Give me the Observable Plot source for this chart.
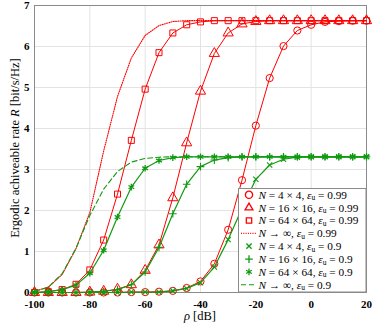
<!DOCTYPE html>
<html>
<head>
<meta charset="utf-8">
<script src="https://cdn.jsdelivr.net/npm/d3@7"></script>
<script src="https://cdn.jsdelivr.net/npm/@observablehq/plot@0.6"></script>
<style>
  body { margin: 0; background: #fff; }
  #chart svg { display: block; }
</style>
</head>
<body>
<div id="chart"></div>
<script>
const rho = [-100,-95,-90,-85,-80,-75,-70,-65,-60,-55,-50,-45,-40,-35,-30,-25,-20,-15,-10,-5,0,5,10,15,20];

const circle099 = [0,0,0,0,0,0,0,0.01,0.01,0.02,0.04,0.11,0.27,0.7,1.53,2.74,4.07,5.23,6.01,6.39,6.53,6.6,6.62,6.63,6.63];
const triangle099 = [0,0,0,0,0.01,0.03,0.08,0.19,0.54,1.16,2.31,3.65,4.91,5.83,6.33,6.55,6.61,6.63,6.63,6.63,6.63,6.63,6.63,6.63,6.63];
const square099 = [0,0.02,0.07,0.2,0.55,1.28,2.4,3.71,4.96,5.85,6.33,6.53,6.6,6.63,6.63,6.63,6.63,6.63,6.63,6.63,6.63,6.63,6.63,6.63,6.63];
const inf099 = [0.03,0.13,0.44,1.07,1.95,3.45,4.78,5.72,6.27,6.51,6.61,6.63,6.63,6.63,6.63,6.63,6.63,6.63,6.63,6.63,6.63,6.63,6.63,6.63,6.63];
const times09 = [0,0,0,0,0,0,0,0.01,0.01,0.01,0.04,0.1,0.24,0.62,1.29,2.05,2.76,3.11,3.25,3.3,3.31,3.31,3.31,3.31,3.31];
const plus09 = [0,0,0,0,0.01,0.03,0.07,0.19,0.5,1.1,1.92,2.64,3.07,3.23,3.29,3.31,3.31,3.31,3.31,3.31,3.31,3.31,3.31,3.31,3.31];
const star09 = [0,0.02,0.07,0.18,0.47,1.03,1.84,2.57,3.03,3.22,3.29,3.31,3.31,3.31,3.31,3.31,3.31,3.31,3.31,3.31,3.31,3.31,3.31,3.31,3.31];
const inf09 = [0.03,0.13,0.46,1.08,1.88,2.52,2.95,3.18,3.27,3.3,3.31,3.31,3.31,3.31,3.31,3.31,3.31,3.31,3.31,3.31,3.31,3.31,3.31,3.31,3.31];

const xTicks = [-100,-80,-60,-40,-20,0,20];
const yTicks = [0,1,2,3,4,5,6,7];

const RED = "#ff0000";
const GREEN = "#109a10";

const series = [
  {name: "c", vals: circle099, color: RED, symbol: "circle", r: 3.6, sw: 1, label: ["4 × 4", "0.99"]},
  {name: "t", vals: triangle099, color: RED, symbol: "triangle", r: 3.8, sw: 1, label: ["16 × 16", "0.99"]},
  {name: "s", vals: square099, color: RED, symbol: "square", r: 3.4, sw: 1, label: ["64 × 64", "0.99"]},
  {name: "i1", vals: inf099, color: RED, dash: "1,1.3", label: ["∞", "0.99"]},
  {name: "x", vals: times09, color: GREEN, symbol: "times", r: 2.5, sw: 1.1, label: ["4 × 4", "0.9"]},
  {name: "p", vals: plus09, color: GREEN, symbol: "plus", r: 2.6, sw: 1.1, label: ["16 × 16", "0.9"]},
  {name: "a", vals: star09, color: GREEN, symbol: "asterisk", r: 3.1, sw: 1.3, label: ["64 × 64", "0.9"]},
  {name: "i2", vals: inf09, color: GREEN, dash: "5,3", label: ["∞", "0.9"]}
];

const toRows = s => rho.map((x, i) => ({x, y: s.vals[i]}));

const marks = [
  Plot.gridX(xTicks, {stroke: "#e3e3e3", strokeOpacity: 1}),
  Plot.gridY(yTicks, {stroke: "#e3e3e3", strokeOpacity: 1}),
  Plot.frame({stroke: "#8a8a8a"}),
  Plot.axisX(xTicks, {tickSize: 0, tickPadding: 7.5, tickFormat: d => String(d), fontSize: 11, fontWeight: "bold", label: null}),
  Plot.axisY(yTicks, {tickSize: 0, tickPadding: 5, tickFormat: d => String(d), fontSize: 11, fontWeight: "bold", label: null})
];
for (const s of series) {
  const rows = toRows(s);
  const strokeW = s.color === GREEN ? 1.2 : 1;
  marks.push(Plot.line(rows, {x: "x", y: "y", stroke: s.color, strokeWidth: s.dash ? 1.1 : strokeW, strokeDasharray: s.dash || null}));
  if (s.symbol) {
    marks.push(Plot.dot(rows, {x: "x", y: "y", symbol: () => s.symbol, r: s.r, stroke: s.color, fill: "none", strokeWidth: s.sw}));
  }
}

const chart = Plot.plot({
  width: 374,
  height: 325,
  marginLeft: 34,
  marginRight: 8,
  marginTop: 5,
  marginBottom: 33,
  style: {fontFamily: "'Liberation Serif', serif", color: "#000", background: "#fff"},
  x: {domain: [-100, 20]},
  y: {domain: [0, 7]},
  marks
});

const svg = d3.select(chart);
const FONT = "'Liberation Serif', serif";
// axis labels
svg.append("text")
  .attr("transform", "translate(15,148) rotate(-90)")
  .attr("text-anchor", "middle")
  .attr("dy", "0.35em")
  .style("font-size", "12.5px")
  .style("font-family", FONT)
  .call(t => {
    t.append("tspan").text("Ergodic achiveable rate ");
    t.append("tspan").style("font-style", "italic").text("R");
    t.append("tspan").text(" [bit/s/Hz]");
  });
svg.append("text")
  .attr("x", 200).attr("y", 320)
  .attr("text-anchor", "middle")
  .style("font-size", "12.5px")
  .style("font-family", FONT)
  .call(t => {
    t.append("tspan").style("font-style", "italic").text("ρ");
    t.append("tspan").text(" [dB]");
  });

// legend
const symMap = {circle: d3.symbolCircle, triangle: d3.symbolTriangle2, square: d3.symbolSquare2, times: d3.symbolTimes, plus: d3.symbolPlus, asterisk: d3.symbolAsterisk};
const lg = svg.append("g").attr("class", "legend");
lg.append("rect").attr("x", 238.5).attr("y", 188.5).attr("width", 127.5).attr("height", 103.5)
  .attr("fill", "#fff").attr("stroke", "#8a8a8a").attr("stroke-width", 1);
series.forEach((s, i) => {
  const cy = 194.8 + i * 12.85;
  const g = lg.append("g");
  if (s.symbol) {
    g.append("path").attr("transform", `translate(249,${cy})`)
      .attr("d", d3.symbol(symMap[s.symbol], Math.PI * s.r * s.r)())
      .attr("fill", "none").attr("stroke", s.color).attr("stroke-width", 1.3);
  } else {
    g.append("line").attr("x1", 241).attr("x2", 257).attr("y1", cy).attr("y2", cy)
      .attr("stroke", s.color).attr("stroke-width", 1.1).attr("stroke-dasharray", s.dash);
  }
  const t = g.append("text").attr("x", 258.5).attr("y", cy).attr("dy", "0.35em")
    .attr("text-anchor", "start")
    .style("font-size", "11.3px").style("font-family", FONT);
  t.append("tspan").style("font-style", "italic").text("N");
  if (s.label[0] === "∞") {
    t.append("tspan").text(" → ∞, ");
  } else {
    t.append("tspan").text(" = " + s.label[0] + ", ");
  }
  t.append("tspan").style("font-style", "italic").text("ε");
  t.append("tspan").attr("dy", "1.5").style("font-size", "7.5px").text("u");
  t.append("tspan").attr("dy", "-1.5").text(" = " + s.label[1]);
});

document.getElementById("chart").appendChild(chart);
</script>
</body>
</html>
